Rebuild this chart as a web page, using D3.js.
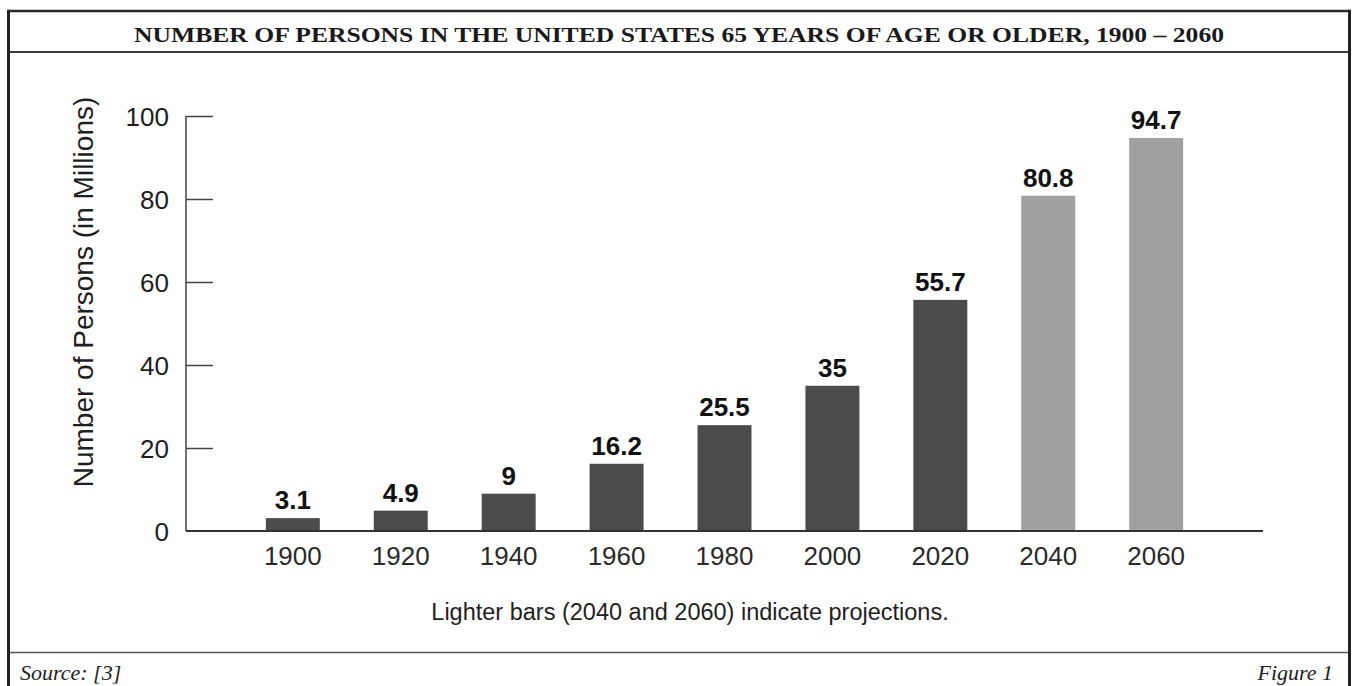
<!DOCTYPE html>
<html>
<head>
<meta charset="utf-8">
<script src="https://cdn.jsdelivr.net/npm/d3@7"></script>
<style>
  html, body { margin: 0; padding: 0; background: #fff; }
  svg { display: block; }
</style>
</head>
<body>
<svg id="chart" width="1355" height="686"></svg>
<script>
const years = ["1900", "1920", "1940", "1960", "1980", "2000", "2020", "2040", "2060"];
const persons = [3.1, 4.9, 9, 16.2, 25.5, 35, 55.7, 80.8, 94.7];
const valueLabels = ["3.1", "4.9", "9", "16.2", "25.5", "35", "55.7", "80.8", "94.7"];
const projected = ["2040", "2060"];
const yTicks = [0, 20, 40, 60, 80, 100];
const titleText = "NUMBER OF PERSONS IN THE UNITED STATES 65 YEARS OF AGE OR OLDER, 1900 – 2060";
const yTitle = "Number of Persons (in Millions)";
const noteText = "Lighter bars (2040 and 2060) indicate projections.";
const sourceText = "Source: [3]";
const figureText = "Figure 1";

const svg = d3.select("#chart");
const sans = "'Liberation Sans', Arial, Helvetica, sans-serif";
const serif = "'Liberation Serif', 'Times New Roman', serif";

// frame
const frame = { left: 8.5, right: 1349.5, top: 11 };
svg.append("line").attr("x1", frame.left).attr("x2", frame.right).attr("y1", frame.top).attr("y2", frame.top)
  .attr("stroke", "#2a2a2a").attr("stroke-width", 2.5);
svg.append("line").attr("x1", frame.left).attr("x2", frame.right).attr("y1", 52).attr("y2", 52)
  .attr("stroke", "#3a3a3a").attr("stroke-width", 2);
svg.append("line").attr("x1", frame.left).attr("x2", frame.right).attr("y1", 652.5).attr("y2", 652.5)
  .attr("stroke", "#555").attr("stroke-width", 1.5);
svg.append("line").attr("x1", frame.left).attr("x2", frame.left).attr("y1", frame.top - 1.2).attr("y2", 686)
  .attr("stroke", "#222").attr("stroke-width", 3);
svg.append("line").attr("x1", frame.right).attr("x2", frame.right).attr("y1", frame.top - 1.2).attr("y2", 686)
  .attr("stroke", "#222").attr("stroke-width", 3);

// title
svg.append("text").attr("x", 679).attr("y", 42).attr("text-anchor", "middle")
  .attr("font-family", serif).attr("font-weight", "bold").attr("font-size", 22)
  .attr("fill", "#1a1a1a")
  .attr("textLength", 1090).attr("lengthAdjust", "spacingAndGlyphs")
  .text(titleText);

// footer
svg.append("text").attr("x", 20).attr("y", 680).attr("font-family", serif).attr("font-style", "italic")
  .attr("font-size", 22).attr("fill", "#222").text(sourceText);
svg.append("text").attr("x", 1333).attr("y", 680).attr("text-anchor", "end").attr("font-family", serif)
  .attr("font-style", "italic").attr("font-size", 22).attr("fill", "#222").text(figureText);

// scales
const x = d3.scaleBand().domain(years).range([186, 1263]).paddingInner(0.5).paddingOuter(0.74);
const y = d3.scaleLinear().domain([0, 100]).range([531, 116]);

// y axis
const yAxis = svg.append("g").attr("transform", "translate(186,0)")
  .call(d3.axisRight(y).tickValues(yTicks).tickSize(27).tickFormat(() => ""));
yAxis.select(".domain").attr("stroke", "#444").attr("stroke-width", 1.5).attr("d", `M0,${y(100)}V${y(0)}`);
yAxis.selectAll(".tick line").attr("stroke", "#444").attr("stroke-width", 1.5);
yAxis.selectAll(".tick").filter(d => d === 0).select("line").remove();

svg.append("g").selectAll("text").data(yTicks).join("text")
  .attr("x", 169).attr("y", d => y(d) + 9.5).attr("text-anchor", "end")
  .attr("font-family", sans).attr("font-size", 26).attr("fill", "#1e1e1e")
  .text(d => d);

// bars
const data = years.map((yr, i) => ({ year: yr, value: persons[i], label: valueLabels[i] }));
svg.append("g").selectAll("rect").data(data).join("rect")
  .attr("x", d => x(d.year)).attr("width", x.bandwidth())
  .attr("y", d => y(d.value)).attr("height", d => y(0) - y(d.value))
  .attr("fill", d => projected.includes(d.year) ? "#a0a0a0" : "#4b4b4b");

svg.append("g").selectAll("text").data(data).join("text")
  .attr("x", d => x(d.year) + x.bandwidth() / 2).attr("y", d => y(d.value) - 9)
  .attr("text-anchor", "middle").attr("font-family", sans).attr("font-weight", "bold")
  .attr("font-size", 26).attr("fill", "#111").text(d => d.label);

// x axis
const xAxis = svg.append("g").attr("transform", `translate(0,${y(0)})`)
  .call(d3.axisBottom(x).tickSize(0).tickPadding(0).tickFormat(() => ""));
xAxis.select(".domain").attr("stroke", "#333").attr("stroke-width", 1.8).attr("d", "M186,0H1263");

svg.append("g").selectAll("text").data(years).join("text")
  .attr("x", d => x(d) + x.bandwidth() / 2).attr("y", 565).attr("text-anchor", "middle")
  .attr("font-family", sans).attr("font-size", 26).attr("fill", "#2a2a2a").text(d => d);

// y title
svg.append("text").attr("transform", "translate(93,292) rotate(-90)").attr("text-anchor", "middle")
  .attr("font-family", sans).attr("font-size", 28).attr("fill", "#1e1e1e").text(yTitle);

// note
svg.append("text").attr("x", 690).attr("y", 620).attr("text-anchor", "middle")
  .attr("font-family", sans).attr("font-size", 23.5).attr("fill", "#1e1e1e").text(noteText);
</script>
</body>
</html>
